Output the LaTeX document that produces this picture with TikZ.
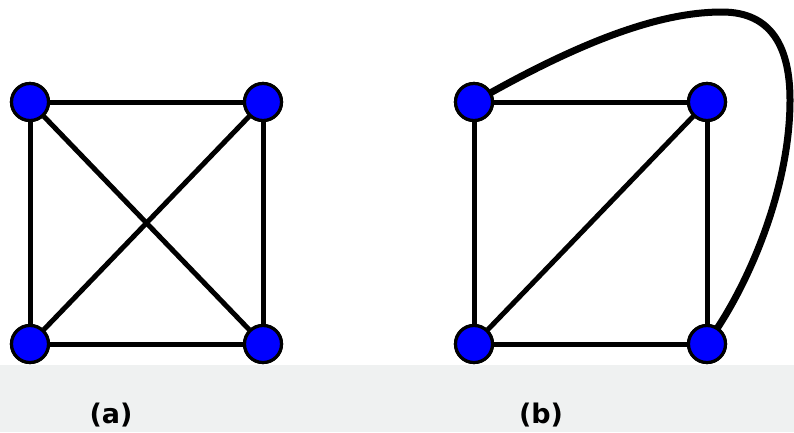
\documentclass[tikz,border=0pt]{standalone}
\usepackage{fontspec}
\setmainfont{DejaVu Sans}
\definecolor{VertBlue}{RGB}{0,0,255}
\definecolor{BandGray}{RGB}{239,241,241}

\begin{document}
\begin{tikzpicture}[x=1pt,y=-1pt,
        vertex/.style={circle,draw=black,fill=VertBlue,line width=3.2pt,
                       minimum size=37pt,inner sep=0pt},
        edge/.style={black,line width=5pt},
        loopedge/.style={black,line width=7pt,line cap=round},
        caption/.style={font=\bfseries\fontsize{27}{31}\selectfont,inner sep=0pt}
      ]
        \useasboundingbox (0,0) rectangle (794,432);
        \fill[BandGray] (0,365) rectangle (794,432);
        % graph (a)
        \node[vertex] (a1) at (30,102) {};
        \node[vertex] (a2) at (263,102) {};
        \node[vertex] (a3) at (30,344) {};
        \node[vertex] (a4) at (263,344) {};
        % graph (b)
        \node[vertex] (b1) at (474,102) {};
        \node[vertex] (b2) at (707,102) {};
        \node[vertex] (b3) at (474,344) {};
        \node[vertex] (b4) at (707,344) {};
        \coordinate (top) at (722,12);
        \coordinate (side) at (790,100);
        \draw[edge] (a1)--(a2); \draw[edge] (a3)--(a4);
        \draw[edge] (a1)--(a3); \draw[edge] (a2)--(a4);
        \draw[edge] (a1)--(a4); \draw[edge] (a2)--(a3);
        \draw[edge] (b1)--(b2); \draw[edge] (b3)--(b4);
        \draw[edge] (b1)--(b3); \draw[edge] (b2)--(b4);
        \draw[edge] (b2)--(b3);
        \draw[loopedge] (b1) .. controls (600,32) and (670,12) .. (top)
                 .. controls (772,12) and (790,48) .. (side)
                 .. controls (790,185) and (752,275) .. (b4);
        % redraw vertices on top of the edges
        \foreach \v in {a1,a2,a3,a4,b1,b2,b3,b4}
          \node[vertex] at (\v) {};
        \node[caption] (capa) at (111,415) {(a)};
        \node[caption] (capb) at (541,415) {(b)};
      \end{tikzpicture}
\end{document}
